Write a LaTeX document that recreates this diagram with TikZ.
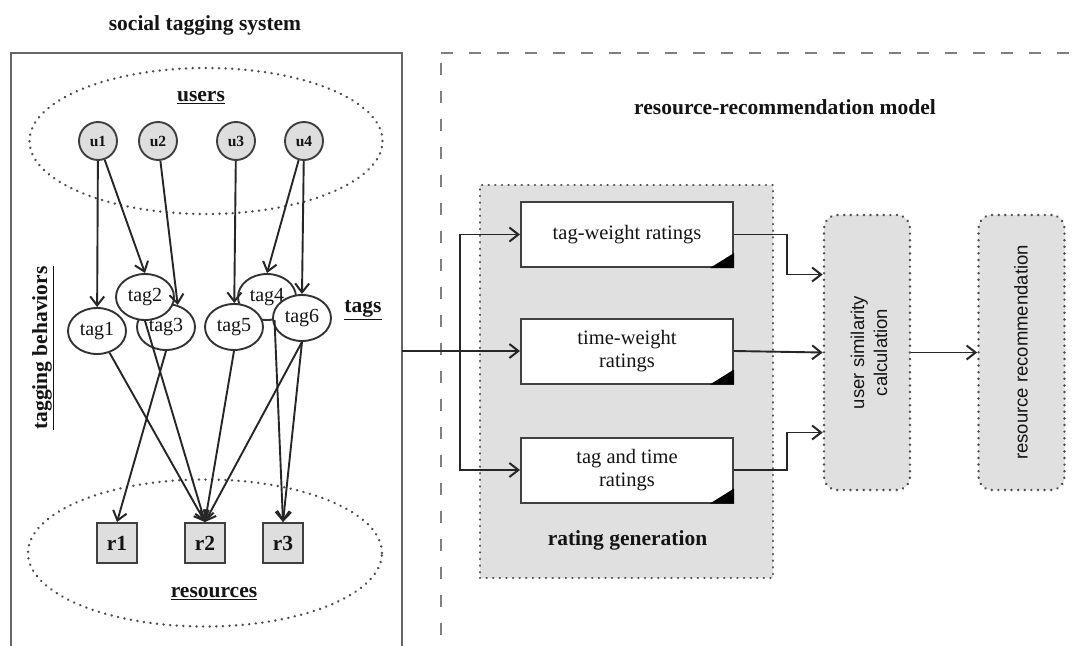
\documentclass[tikz,border=0pt]{standalone}
\usepackage{fontspec}
\setmainfont{Liberation Serif}
\setsansfont{Liberation Sans}
\usetikzlibrary{arrows.meta,shapes.geometric,calc}

\newcommand\labfont{\bfseries\fontsize{21.5}{25}\selectfont}

\begin{document}
\begin{tikzpicture}[x=1pt,y=-1pt,
  every node/.style={inner sep=0pt, text=black!92},
  arr/.style={-{Straight Barb[length=9pt,width=14pt,line width=2pt]}, line width=1.9pt, draw=black!85},
  frameline/.style={draw=black!60, line width=2.4pt},
  dashframe/.style={draw=black!50, line width=2.5pt, dash pattern=on 12pt off 16pt},
  dots/.style={draw=black!70, line width=2.6pt, dash pattern=on 0.1pt off 6.5pt, line cap=round},
  userc/.style={circle, draw=black!75, line width=1.9pt, fill=black!13, minimum size=38pt,
    font=\bfseries\fontsize{15.5}{18}\selectfont},
  tagn/.style={ellipse, draw=black!80, line width=1.9pt, fill=white, minimum width=58pt,
    minimum height=46pt, font=\fontsize{20}{24}\selectfont},
  resn/.style={rectangle, draw=black!75, line width=2pt, fill=black!13, minimum size=40pt,
    font=\bfseries\fontsize{21.5}{25}\selectfont},
  rbox/.style={rectangle, draw=black!75, line width=2pt, fill=white, minimum width=212pt,
    minimum height=65pt, align=center, font=\fontsize{20.5}{23}\selectfont},
  stage/.style={rectangle, rounded corners=13pt, fill=black!12, dots, minimum width=86pt,
    minimum height=275pt},
  rgen/.style={rectangle, fill=black!12, dots, minimum width=293pt, minimum height=393pt},
  vtext/.style={rotate=90, align=center, font=\sffamily\fontsize{18.5}{23}\selectfont}
]
\useasboundingbox (0,0) rectangle (1078,645);
\clip (0,0) rectangle (1078,645);
\fill[white] (0,0) rectangle (1078,645);

% ---------- social tagging system ----------
\node[font=\labfont] (sysTitle) at (205,25) {social tagging system};
\draw[frameline] (11,650) -- (11,53) -- (402,53) -- (402,650);
\coordinate (feed) at (402,351);

\node[ellipse, dots, minimum width=353pt, minimum height=146pt] (userSet) at (206,141) {};
\node[ellipse, dots, minimum width=354pt, minimum height=147pt] (resSet) at (205,553) {};

\node[font=\labfont] (usersLab) at (201,98) {\underline{users}};
\node[font=\labfont] (tagsLab) at (363,310) {\underline{tags}};
\node[font=\labfont] (resLab) at (214,594) {\underline{resources}};
\node[font=\labfont, rotate=90] (behLab) at (43,348) {\underline{tagging behaviors}};

\node[userc] (u1) at (98,141) {u1};
\node[userc] (u2) at (158,141) {u2};
\node[userc] (u3) at (236,141) {u3};
\node[userc] (u4) at (304,141) {u4};

\node[tagn] (tag1) at (97,331) {tag1};
\node[tagn] (tag3) at (166,327) {tag3};
\node[tagn] (tag2) at (145,297) {tag2};
\node[tagn] (tag4) at (267,297) {tag4};
\node[tagn] (tag5) at (234,327) {tag5};
\node[tagn] (tag6) at (302,318) {tag6};

\node[resn] (r1) at (117,543) {r1};
\node[resn] (r2) at (205,543) {r2};
\node[resn] (r3) at (283,543) {r3};

% users tag resources
\draw[arr] (u1) -- (tag1);
\draw[arr] (u1) -- (tag2.north);
\draw[arr] (u2) -- (tag3.62);
\draw[arr] (u3) -- (tag5);
\draw[arr] (u4) -- (tag4.north);
\draw[arr] (u4) -- (tag6.north);

% tags point to resources
\draw[arr] (tag1.-60) -- (r2.north);
\draw[arr] (tag2.south) -- (r2.north);
\draw[arr] (tag3.south) -- (r1.north);
\draw[arr] (tag5.south) -- (r2.north);
\draw[arr] (tag6.south) -- (r2.north);
\draw[arr] (tag4.-72) -- (r3.north);
\draw[arr] (tag6.south) -- (r3.north);

% ---------- resource-recommendation model ----------
\draw[dashframe] (441,53) -- (1085,53);
\draw[dashframe] (441,63) -- (441,650);
\node[font=\labfont] (modelTitle) at (785,107) {resource-recommendation model};

\node[rgen] (rg) at (626.5,381.5) {};
\node[font=\labfont] (rgLab) at (627.5,540) {rating generation};

\node[rbox] (tw) at (627,234.5) {tag-weight ratings};
\node[rbox] (tiw) at (627,351) {time-weight\\ratings};
\node[rbox] (tt) at (627,470) {tag and time\\ratings};

\foreach \b in {tw,tiw,tt}{
  \fill[black] (\b.south east) -- ++(-24,0) -- ++(24,-15) -- cycle;
}

\node[stage] (us) at (867,352.5) {};
\node[vtext] (usText) at (869,352.5) {user similarity\\calculation};
\node[stage] (rr) at (1021.5,352.5) {};
\node[vtext] (rrText) at (1021,352.5) {resource recommendation};

% input fan-out
\coordinate (split) at (460,351);
\draw[arr] (feed) -- (tiw.west);
\draw[arr] (split) |- (tw.west);
\draw[arr] (split) |- (tt.west);

% ratings into similarity calculation
\draw[arr] (tw.east) -- ++(53,0) |- ([yshift=78pt]us.west);
\draw[arr] (tiw.east) -- (us.west);
\draw[arr] (tt.east) -- ++(53,0) |- ([yshift=-80pt]us.west);
\draw[arr] (us.east) -- (rr.west);
\end{tikzpicture}
\end{document}
